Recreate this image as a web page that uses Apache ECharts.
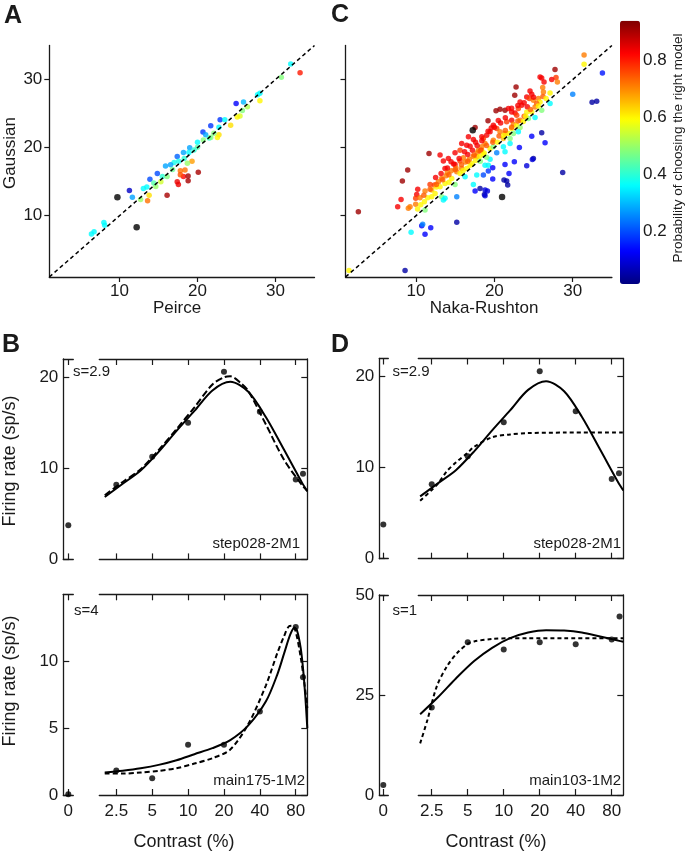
<!DOCTYPE html>
<html><head><meta charset="utf-8">
<script src="https://cdn.jsdelivr.net/npm/echarts@6/dist/echarts.min.js"></script>
<style>html,body{margin:0;padding:0;background:#fff}#c{width:688px;height:853px}</style>
</head><body><div id="c"></div>
<script>
// ---------------- DATA ----------------
const diagRange = [1, 35];
const scatterTicks = [10, 20, 30];
const probTicks = [0.2, 0.4, 0.6, 0.8];
const probRange = [0.017, 0.937];
const contrastTicks = [2.5, 5, 10, 20, 40, 80];

// Panel A: [Peirce, Gaussian, probability]
const aPoints = [
[31.95,32.3,0.36],[33.15,31.0,0.80],[30.75,30.35,0.48],[28.0,28.0,0.36],[27.7,27.75,0.36],
[28.0,26.9,0.6],[24.95,26.5,0.13],[25.9,26.7,0.3],[26.4,26.0,0.52],[25.75,25.45,0.48],
[25.45,24.66,0.56],[25.1,24.5,0.6],[22.9,24.1,0.18],[23.5,24.1,0.36],[24.25,23.3,0.62],
[21.7,23.2,0.18],[22.75,23.0,0.36],[22.75,21.9,0.62],[22.55,21.5,0.6],[22.1,22.1,0.48],
[20.7,22.3,0.18],[21.05,21.9,0.28],[21.5,21.4,0.4],[20.75,21.13,0.48],[20.0,20.8,0.36],
[20.0,20.05,0.44],[19.0,20.0,0.28],[18.9,19.3,0.36],[18.2,19.3,0.28],[17.4,18.7,0.22],
[17.6,18.0,0.38],[17.0,17.8,0.38],[16.55,17.5,0.28],[15.9,17.3,0.28],[14.85,16.2,0.2],
[15.5,15.75,0.4],[16.1,15.75,0.48],[15.3,15.0,0.55],[14.65,14.3,0.5],[13.9,15.35,0.2],
[13.06,14.0,0.36],[13.5,14.2,0.36],[12.7,12.4,0.5],[13.8,13.0,0.62],[13.6,12.2,0.72],
[11.27,13.7,0.08],[11.65,12.7,0.28],[16.1,13.0,0.9],[17.4,15.0,0.84],[17.55,14.6,0.84],
[18.2,15.75,0.82],[18.8,15.85,0.9],[18.8,15.15,0.9],[17.8,16.6,0.72],[18.4,16.7,0.72],
[17.8,16.0,0.75],[19.3,18.0,0.68],[20.1,16.4,0.9],[8.0,9.0,0.36],[8.1,8.6,0.36],
[6.74,7.65,0.36],[6.4,7.3,0.36],[18.3,18.4,0.4],[19.55,19.66,0.4],[14.4,14.8,0.44],
[21.7,21.5,0.48],[18.7,17.7,0.5],[16.8,16.8,0.46]
];
const aBlack = [[9.73,12.7],[12.2,8.3]];

// Panel C: [Naka-Rushton, Gaussian, probability]
const cPoints = [
[31.45,33.61,0.71],[31.45,32.24,0.6],[33.79,30.97,0.15],[30.0,27.84,0.25],[32.47,26.67,0.05],[33.06,26.82,0.05],
[27.74,31.46,0.91],[27.87,30.29,0.77],[28.04,29.65,0.71],[27.32,29.99,0.83],[25.83,30.38,0.83],[26.04,30.24,0.83],
[26.34,29.65,0.83],[26.17,28.82,0.71],[26.26,28.18,0.71],[27.11,28.04,0.6],[27.11,26.47,0.36],
[22.77,28.92,0.91],[22.6,27.7,0.91],[24.55,28.33,0.83],[24.77,27.84,0.83],[24.13,27.45,0.83],[24.47,27.21,0.77],
[24.98,26.96,0.71],[25.62,27.21,0.71],[25.83,26.72,0.6],[23.28,26.72,0.83],[23.49,26.23,0.83],[23.06,25.74,0.77],
[24.13,25.25,0.6],[24.77,25.25,0.6],[25.19,25.98,0.71],[26.04,25.5,0.48],[25.19,24.42,0.36],
[20.21,25.4,0.91],[20.72,25.64,0.91],[21.36,25.5,0.91],[21.79,25.74,0.83],[22.21,25.25,0.83],[22.64,25.1,0.83],
[22.85,24.76,0.77],[22.21,24.03,0.83],[21.57,23.79,0.77],[22.43,23.44,0.71],[23.28,24.03,0.71],[23.70,23.84,0.6],
[22.85,23.25,0.6],[22.21,22.81,0.6],[24.34,24.27,0.48],
[19.19,23.93,0.91],[19.87,23.3,0.83],[20.3,22.81,0.77],[20.72,22.32,0.71],[21.36,22.08,0.71],[19.45,22.32,0.83],
[19.02,21.83,0.83],[18.6,21.34,0.77],[18.81,20.61,0.71],[19.87,21.1,0.71],[21.15,21.34,0.65],[21.79,22.08,0.6],
[23.28,22.96,0.5],[22.0,21.34,0.48],[22.43,22.08,0.48],[23.06,22.32,0.36],[22.0,20.61,0.36],[21.15,20.12,0.36],
[21.36,19.39,0.36],[20.3,19.24,0.25],[24.77,21.68,0.13],[26.04,22.17,0.05],[26.47,20.71,0.13],[23.19,20.02,0.13],
[24.98,18.41,0.05],[19.45,19.87,0.6],[19.87,20.12,0.48],[18.38,19.63,0.6],
[2.64,10.59,0.91],[8.94,16.7,0.91],[8.26,15.09,0.91],[8.09,12.4,0.83],[7.66,11.32,0.83],[10.22,13.87,0.83],
[10.09,13.13,0.83],[9.96,12.55,0.77],[10.51,12.64,0.71],[9.24,11.32,0.71],[9.02,11.08,0.71],[9.96,11.67,0.71],
[11.15,13.62,0.71],[11.79,14.6,0.77],[12.34,14.5,0.77],[12.86,14.99,0.71],[13.28,15.48,0.71],[13.83,15.87,0.71],
[13.7,16.94,0.83],[13.49,18.02,0.83],[14.47,17.92,0.83],[14.98,17.53,0.83],[15.62,18.02,0.77],[16.05,18.51,0.71],
[15.2,16.46,0.71],[15.83,16.94,0.71],[12.0,13.77,0.65],[12.43,13.28,0.6],[11.49,12.64,0.6],[11.07,12.06,0.6],
[13.07,14.26,0.6],[13.7,14.75,0.6],[14.56,15.48,0.6],[15.62,16.21,0.6],[16.47,16.94,0.6],[17.11,17.68,0.6],
[14.98,14.6,0.48],[13.28,12.79,0.48],[11.15,10.84,0.48],[16.26,15.72,0.36],[17.75,15.97,0.36],[17.32,14.6,0.36],
[13.7,12.55,0.36],[13.49,12.3,0.36],[15.2,12.79,0.25],[18.6,15.97,0.2],[17.54,13.62,0.13],[18.17,14.01,0.05],
[18.73,13.13,0.05],[15.2,9.03,0.05],[10.73,8.54,0.13],[10.85,8.73,0.25],[11.88,8.25,0.13],[11.15,7.27,0.13],
[9.37,7.56,0.36],[8.6,1.94,0.05],[1.45,1.94,0.6],
[17.54,22.95,0.91],[16.69,21.59,0.83],[17.32,21.2,0.83],[15.83,20.61,0.83],[16.47,20.36,0.83],[15.62,19.63,0.77],
[14.98,19.24,0.83],[11.66,19.14,0.91],[13.07,18.9,0.83],[14.13,18.41,0.83],[17.96,19.63,0.71],[18.39,20.12,0.71],
[17.75,18.65,0.71],
[18.81,17.43,0.36],[19.23,17.43,0.36],[19.45,18.31,0.36],[19.79,17.04,0.13],[19.23,16.55,0.18],[19.79,15.38,0.13],
[21.36,17.53,0.13],[22.55,17.92,0.13],[24.13,17.34,0.1],[24.85,18.26,0.1],[28.72,16.36,0.05],[21.87,16.21,0.13],
[21.23,15.23,0.05],[21.57,15.09,0.05],[21.7,14.5,0.05],[18.81,13.77,0.1],[19.11,13.62,0.1],[18.81,12.94,0.1],
[16.3,17.9,0.71],[16.8,18.3,0.71],[17.3,18.7,0.71],[17.8,19.2,0.71],[18.3,19.6,0.77],[16.6,19.0,0.83],
[17.2,19.6,0.83],[17.8,20.3,0.83],[18.4,21.0,0.83],[16.9,17.4,0.6],[17.6,18.1,0.6],[18.1,18.7,0.6],
[18.7,19.2,0.6],[18.2,18.0,0.48],[19.0,18.6,0.48],[14.5,16.6,0.71],[14.0,16.3,0.71],[15.1,17.0,0.71],
[12.6,14.2,0.6],[10.6,11.6,0.6],
[12.5,15.6,0.83],[13.2,16.2,0.83],[14.0,17.0,0.83],[14.8,17.6,0.83],[15.5,18.4,0.83],[16.2,19.4,0.83],
[16.9,20.2,0.83],[17.6,20.8,0.83],[18.4,21.6,0.83],[19.2,22.4,0.83],[20.0,23.0,0.83],[20.8,23.6,0.83],
[21.4,24.4,0.83],[22.2,25.8,0.83],[23.0,26.2,0.83],[23.8,26.6,0.83],[24.2,26.0,0.83],[25.0,27.4,0.83],
[20.5,24.0,0.83],[19.6,22.9,0.83],
[11.0,13.0,0.74],[11.8,13.9,0.74],[12.6,14.6,0.74],[13.4,15.3,0.74],[14.2,16.0,0.74],[15.0,16.8,0.74],
[15.8,17.5,0.74],[16.6,18.0,0.74],[17.4,18.9,0.74],[18.2,19.5,0.74],[19.0,20.3,0.74],[19.8,20.8,0.74],
[20.6,21.7,0.74],[21.4,22.5,0.74],[22.2,23.0,0.74],[23.0,23.9,0.74],[23.8,24.6,0.74],[24.6,25.6,0.74],
[25.4,26.5,0.74],[26.2,27.5,0.74],
[10.2,11.0,0.6],[12.0,12.8,0.6],[14.2,14.9,0.6],[16.0,16.6,0.6],[18.6,19.0,0.6],[20.4,20.8,0.6],
[21.2,21.8,0.6],[24.0,24.6,0.6],[25.6,26.1,0.6],[26.6,27.2,0.6]
];
const cBlack = [[17.24,22.56],[20.98,12.74]];

// Cell step028-2M1 (panels B top, D top)
const stepContrast = [2.5, 5, 10, 20, 40, 80, 92];
const stepRate = [8.19, 11.27, 15.0, 20.6, 16.2, 8.77, 9.39];
const stepZeroRate = 3.75;
const stepGaussFit = [[2,6.85],[2.83,8.3],[4,9.75],[5.66,11.8],[8,14.1],[11.3,16.3],[16,18.55],[22.6,19.5],[32,18.4],[45,15.6],[64,12.0],[90.5,8.4],[100,7.5]];
const stepPeirceFit = [[2,7.05],[2.83,8.5],[4,9.9],[5.66,12.0],[8,14.3],[11.3,16.7],[16,19.2],[20,20.0],[22.6,20.1],[28,19.3],[32,18.5],[45,14.8],[64,10.9],[90.5,8.15],[100,7.5]];
const stepNakaFit = [[2,6.37],[2.5,7.55],[2.83,8.3],[3.34,9.6],[4,10.6],[5,11.65],[5.66,12.3],[8,13.35],[11.3,13.65],[16,13.8],[32,13.86],[100,13.88]];

// Cell main175-1M2 (panel B bottom)
const m175Contrast = [2.5, 5, 10, 20, 40, 80, 92];
const m175Rate = [1.83, 1.25, 3.75, 3.75, 6.25, 12.55, 8.8];
const m175ZeroRate = 0.05;
const m175GaussFit = [[2,1.68],[2.83,1.82],[4,2.0],[5.66,2.25],[8,2.6],[11.3,3.05],[16,3.5],[22.6,4.1],[32,5.2],[45,7.0],[56,9.0],[64,10.6],[72,12.0],[78,12.5],[82,12.3],[88,11.0],[92,9.5],[96,7.5],[100,5.0]];
const m175PeirceFit = [[2,1.6],[2.83,1.6],[4,1.68],[5.66,1.8],[8,2.0],[11.3,2.35],[16,2.75],[22.6,3.4],[32,5.3],[45,8.2],[56,10.6],[64,11.9],[70,12.6],[75,12.65],[80,12.2],[88,10.3],[95,8.2],[100,6.5]];

// Cell main103-1M2 (panel D bottom)
const m103Contrast = [2.5, 5, 10, 20, 40, 80, 93];
const m103Rate = [21.9, 38.2, 36.4, 38.2, 37.7, 38.9, 44.6];
const m103ZeroRate = 2.5;
const m103GaussFit = [[2,20.2],[2.83,24.5],[4,29.2],[5.66,33.5],[8,36.8],[11.3,39.2],[16,40.6],[22.6,41.2],[32,41.1],[45,40.6],[64,39.6],[90.5,38.6],[100,38.3]];
const m103NakaFit = [[2,12.9],[2.3,18.75],[2.75,27.1],[3.34,32.1],[4.05,35.4],[5,37.8],[5.66,38.4],[8,39.0],[11.3,39.2],[16,39.2],[32,39.2],[100,39.2]];

// ---------------- CHART ----------------
const FONT = '"Liberation Sans", Arial, Helvetica, sans-serif';
const INK = '#1a1a1a';
const jet = ['#00007f','#0000ff','#007fff','#00ffff','#7fff7f','#ffff00','#ff7f00','#ff0000','#7f0000'];
const LS = w => ({color: INK, width: w || 1.2});
const lbl = (extra) => Object.assign({color: INK, fontFamily: FONT, fontSize: 17}, extra);
const zip = (xs, ys) => xs.map((x, i) => [x, ys[i]]);

const grids = [], xAxes = [], yAxes = [], series = [];

function scatterGrid(left, width, showYLabels) {
  const g = grids.length;
  grids.push({left: left, top: 45.5, width: width, height: 231.5});
  xAxes.push({gridIndex: g, type: 'value', min: diagRange[0], max: diagRange[1],
    axisLine: {show: true, onZero: false, lineStyle: LS(1.3)},
    axisTick: {show: true, inside: false, length: 5, customValues: scatterTicks, lineStyle: LS(1.2)},
    axisLabel: lbl({customValues: scatterTicks, margin: 6}), splitLine: {show: false}});
  yAxes.push({gridIndex: g, type: 'value', min: diagRange[0], max: diagRange[1],
    axisLine: {show: true, onZero: false, lineStyle: LS(1.3)},
    axisTick: {show: true, inside: false, length: 5, customValues: scatterTicks, lineStyle: LS(1.2)},
    axisLabel: lbl({show: showYLabels, customValues: scatterTicks, margin: 7}), splitLine: {show: false}});
  return g;
}

const gA = scatterGrid(49.3, 265.2, true);
const gC = scatterGrid(345.5, 266.4, false);

function scatterSeries(g, pts, black) {
  series.push({type: 'scatter', xAxisIndex: g, yAxisIndex: g, data: pts, symbolSize: 5.5, silent: true, z: 3});
  series.push({type: 'scatter', xAxisIndex: g, yAxisIndex: g, data: black, symbolSize: 6.5, itemStyle: {color: '#000'}, silent: true, z: 4});
  series.push({type: 'line', xAxisIndex: g, yAxisIndex: g, data: [[diagRange[0], diagRange[0]], [diagRange[1], diagRange[1]]],
    symbol: 'none', silent: true, z: 5, lineStyle: {color: '#000', width: 1.5, type: [4, 3]}});
}
scatterSeries(gA, aPoints, aBlack);   // series 0,1,2
scatterSeries(gC, cPoints, cBlack);   // series 3,4,5

// colorbar label axis
const gCB = grids.length;
grids.push({left: 620, top: 20.7, width: 20, height: 263.3});
xAxes.push({gridIndex: gCB, type: 'value', min: 0, max: 1, show: false});
yAxes.push({gridIndex: gCB, type: 'value', position: 'right', min: probRange[0], max: probRange[1],
  axisLine: {show: false}, axisTick: {show: false}, splitLine: {show: false},
  axisLabel: lbl({customValues: probTicks, margin: 3, formatter: v => v.toFixed(1)})});

const logFmt = v => String(Math.round(v * 10) / 10);
function tuningPanel(p) {
  const gz = grids.length;
  grids.push({left: p.zl, top: p.top, width: p.zw, height: p.h});
  const gm = grids.length;
  grids.push({left: p.ml, top: p.top, width: p.mw, height: p.h});
  const tick = (vals) => ({show: true, inside: true, length: 6, customValues: vals, lineStyle: LS(1.2)});
  const xz = xAxes.length;
  xAxes.push({gridIndex: gz, type: 'value', position: 'bottom', min: p.zmin, max: p.zmax,
    axisLine: {show: true, onZero: false, lineStyle: LS(1.3)}, axisTick: tick([0]),
    axisLabel: lbl({show: p.showX, customValues: [0], margin: 8}), splitLine: {show: false}});
  xAxes.push({gridIndex: gz, type: 'value', position: 'top', min: p.zmin, max: p.zmax,
    axisLine: {show: true, onZero: false, lineStyle: LS(1.3)}, axisTick: tick([0]),
    axisLabel: {show: false}, splitLine: {show: false}});
  const xm = xAxes.length;
  xAxes.push({gridIndex: gm, type: 'log', logBase: 2, position: 'bottom', min: p.lmin, max: p.lmax,
    axisLine: {show: true, onZero: false, lineStyle: LS(1.3)}, axisTick: tick(contrastTicks),
    axisLabel: lbl({show: p.showX, customValues: contrastTicks, margin: 8, formatter: logFmt}),
    splitLine: {show: false}, minorTick: {show: false}});
  xAxes.push({gridIndex: gm, type: 'log', logBase: 2, position: 'top', min: p.lmin, max: p.lmax,
    axisLine: {show: true, onZero: false, lineStyle: LS(1.3)}, axisTick: tick(contrastTicks),
    axisLabel: {show: false}, splitLine: {show: false}});
  const yz = yAxes.length;
  yAxes.push({gridIndex: gz, type: 'value', position: 'left', min: 0, max: p.ymax,
    axisLine: {show: true, onZero: false, lineStyle: LS(1.3)}, axisTick: tick(p.yticks),
    axisLabel: lbl({customValues: p.yticks, margin: 5}), splitLine: {show: false}});
  const ym = yAxes.length;
  yAxes.push({gridIndex: gm, type: 'value', position: 'right', min: 0, max: p.ymax,
    axisLine: {show: true, onZero: false, lineStyle: LS(1.3)}, axisTick: tick(p.yticks),
    axisLabel: {show: false}, splitLine: {show: false}});

  const dot = {symbolSize: 6, itemStyle: {color: '#000'}, silent: true, z: 4};
  series.push(Object.assign({type: 'scatter', xAxisIndex: xz, yAxisIndex: yz, data: [[0, p.zero]]}, dot));
  series.push(Object.assign({type: 'scatter', xAxisIndex: xm, yAxisIndex: ym, data: p.pts}, dot));
  series.push({type: 'line', xAxisIndex: xm, yAxisIndex: ym, data: p.solid, smooth: 0.3, symbol: 'none', silent: true, z: 3,
    lineStyle: {color: '#000', width: 2}});
  series.push({type: 'line', xAxisIndex: xm, yAxisIndex: ym, data: p.dashed, smooth: 0.3, symbol: 'none', silent: true, z: 3,
    lineStyle: {color: '#000', width: 2, type: p.dash}});
}

tuningPanel({zl: 63.3, zw: 10, zmin: -1, zmax: 1, ml: 99.3, mw: 208, lmin: 1.8, lmax: 100, top: 359, h: 200.4,
  ymax: 22, yticks: [0, 10, 20], showX: false, zero: stepZeroRate, pts: zip(stepContrast, stepRate),
  solid: stepGaussFit, dashed: stepPeirceFit, dash: [7, 3]});
tuningPanel({zl: 379.3, zw: 9, zmin: -1, zmax: 1.25, ml: 418.3, mw: 205, lmin: 1.93, lmax: 100, top: 358.5, h: 200.2,
  ymax: 22, yticks: [0, 10, 20], showX: false, zero: stepZeroRate, pts: zip(stepContrast, stepRate),
  solid: stepGaussFit, dashed: stepNakaFit, dash: [4, 3]});
tuningPanel({zl: 63.3, zw: 10, zmin: -1, zmax: 1, ml: 99.3, mw: 208, lmin: 1.8, lmax: 100, top: 594.3, h: 200.7,
  ymax: 15, yticks: [0, 5, 10], showX: true, zero: m175ZeroRate, pts: zip(m175Contrast, m175Rate),
  solid: m175GaussFit, dashed: m175PeirceFit, dash: [5, 3]});
tuningPanel({zl: 379.3, zw: 9, zmin: -1, zmax: 1.25, ml: 418.3, mw: 205, lmin: 1.93, lmax: 100, top: 595, h: 200,
  ymax: 50, yticks: [0, 25, 50], showX: true, zero: m103ZeroRate, pts: zip(m103Contrast, m103Rate),
  solid: m103GaussFit, dashed: m103NakaFit, dash: [4, 3]});

function txt(text, x, y, size, opt) {
  opt = opt || {};
  return {type: 'text', x: x, y: y, rotation: opt.rot || 0, silent: true,
    style: {text: text, fill: INK, font: (opt.bold ? 'bold ' : '') + size + 'px ' + FONT,
      textAlign: opt.align || 'center', textVerticalAlign: 'middle', align: opt.align || 'center', verticalAlign: 'middle'}};
}
const graphics = [
  txt('A', 4, 16, 25, {bold: true, align: 'left'}),
  txt('C', 331, 15, 25, {bold: true, align: 'left'}),
  txt('B', 2, 345, 25, {bold: true, align: 'left'}),
  txt('D', 331, 345, 25, {bold: true, align: 'left'}),
  txt('Gaussian', 10, 153, 17, {rot: Math.PI / 2}),
  txt('Peirce', 177, 308, 17),
  txt('Naka-Rushton', 484, 308, 17),
  txt('Probability of choosing the right model', 678, 148, 13.5, {rot: Math.PI / 2}),
  txt('Firing rate (sp/s)', 10, 461, 18, {rot: Math.PI / 2}),
  txt('Firing rate (sp/s)', 10, 681, 18, {rot: Math.PI / 2}),
  txt('Contrast (%)', 184, 842, 18),
  txt('Contrast (%)', 496, 842, 18),
  txt('s=2.9', 73, 372, 15, {align: 'left'}),
  txt('step028-2M1', 300, 544, 15, {align: 'right'}),
  txt('s=4', 74, 611, 15, {align: 'left'}),
  txt('main175-1M2', 305, 781, 15, {align: 'right'}),
  txt('s=2.9', 392.5, 372, 15, {align: 'left'}),
  txt('step028-2M1', 621, 544, 15, {align: 'right'}),
  txt('s=1', 392.5, 611, 15, {align: 'left'}),
  txt('main103-1M2', 621, 781, 15, {align: 'right'})
];

const chart = echarts.init(document.getElementById('c'), null, {renderer: 'canvas'});
chart.setOption({
  animation: false,
  backgroundColor: '#fff',
  grid: grids, xAxis: xAxes, yAxis: yAxes, series: series,
  visualMap: {type: 'continuous', min: probRange[0], max: probRange[1], dimension: 2, seriesIndex: [0, 3],
    inRange: {color: jet}, show: true, orient: 'vertical', left: 620, top: 20.7, itemWidth: 20, itemHeight: 263.3,
    padding: 0, calculable: false, hoverLink: false, text: null, showLabel: false},
  graphic: graphics
});
</script>
</body></html>
